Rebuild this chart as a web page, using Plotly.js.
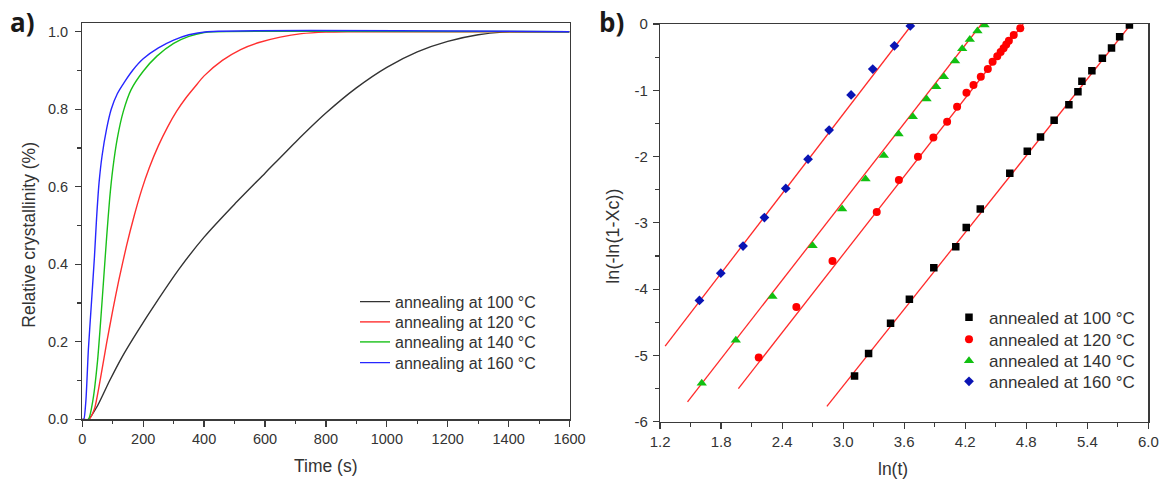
<!DOCTYPE html>
<html>
<head>
<meta charset="utf-8">
<script src="https://cdn.plot.ly/plotly-3.0.1.min.js"></script>
<style>
  html, body { margin: 0; padding: 0; background: #fff; }
  #chart { width: 1159px; height: 479px; }
</style>
</head>
<body>
<div id="chart"></div>
<script>
// ---------- Panel a) : relative crystallinity vs time (values read from the picture) ----------
const time100 = [0, 20, 50, 90, 130, 180, 250, 320, 400, 500, 600, 700, 800, 900, 1000, 1100, 1200, 1300, 1380, 1430, 1600];
const xc100   = [0, 0, 0.035, 0.10, 0.16, 0.225, 0.31, 0.39, 0.47, 0.555, 0.635, 0.715, 0.79, 0.855, 0.908, 0.948, 0.975, 0.992, 0.999, 1.0, 1.0];

const time120 = [0, 22, 40, 60, 80, 100, 120, 145, 170, 195, 220, 250, 280, 310, 340, 370, 400, 460, 520, 580, 650, 720, 800, 870, 1600];
const xc120   = [0, 0, 0.027, 0.107, 0.197, 0.281, 0.359, 0.447, 0.524, 0.592, 0.649, 0.706, 0.754, 0.795, 0.829, 0.858, 0.886, 0.926, 0.954, 0.972, 0.986, 0.995, 0.999, 1.0, 1.0];

const time140 = [0, 20, 35, 50, 60, 70, 80, 90, 100, 115, 135, 160, 200, 245, 300, 350, 400, 430, 1600];
const xc140   = [0, 0, 0.05, 0.15, 0.25, 0.36, 0.47, 0.57, 0.645, 0.725, 0.795, 0.85, 0.898, 0.937, 0.97, 0.988, 0.998, 1.0, 1.0];

const time160 = [0, 5, 12, 20, 30, 40, 47, 55, 65, 80, 95, 115, 140, 165, 200, 250, 300, 350, 410, 1600];
const xc160   = [0, 0, 0.05, 0.18, 0.30, 0.42, 0.52, 0.61, 0.68, 0.75, 0.80, 0.84, 0.872, 0.90, 0.93, 0.958, 0.978, 0.992, 1.0, 1.0];

const curveNames = ['annealing at 100 °C', 'annealing at 120 °C', 'annealing at 140 °C', 'annealing at 160 °C'];

// ---------- Panel b) : Avrami plot ln(-ln(1-Xc)) vs ln(t) ----------
const lnt100 = [3.112, 3.25, 3.466, 3.651, 3.891, 4.107, 4.21, 4.348, 4.638, 4.81, 4.94, 5.074, 5.219, 5.308, 5.347, 5.445, 5.548, 5.638, 5.718, 5.814];
const lnx100 = [-5.31, -4.97, -4.516, -4.154, -3.677, -3.36, -3.07, -2.79, -2.253, -1.92, -1.705, -1.453, -1.217, -1.021, -0.865, -0.707, -0.518, -0.362, -0.191, -0.015];

const lnt120 = [2.17, 2.54, 2.895, 3.33, 3.548, 3.735, 3.887, 4.022, 4.12, 4.212, 4.281, 4.353, 4.422, 4.469, 4.515, 4.548, 4.577, 4.603, 4.629, 4.677, 4.741];
const lnx120 = [-5.03, -4.27, -3.575, -2.837, -2.354, -2.004, -1.713, -1.474, -1.248, -1.038, -0.92, -0.795, -0.679, -0.569, -0.488, -0.423, -0.367, -0.311, -0.254, -0.166, -0.065];

const lnt140 = [1.61, 1.945, 2.305, 2.70, 2.99, 3.22, 3.40, 3.545, 3.685, 3.82, 3.915, 3.99, 4.10, 4.17, 4.245, 4.32, 4.39];
const lnx140 = [-5.42, -4.77, -4.11, -3.345, -2.79, -2.34, -1.985, -1.66, -1.40, -1.13, -0.945, -0.795, -0.558, -0.375, -0.235, -0.105, -0.015];

const lnt160 = [1.587, 1.797, 2.016, 2.226, 2.436, 2.655, 2.862, 3.078, 3.291, 3.504, 3.66];
const lnx160 = [-4.17, -3.76, -3.35, -2.92, -2.48, -2.04, -1.60, -1.07, -0.68, -0.33, -0.03];

// linear fit lines (end points)
const fitT100 = [2.84, 5.83];  const fitY100 = [-5.77, 0];
const fitT120 = [1.97, 4.77];  const fitY120 = [-5.50, 0];
const fitT140 = [1.47, 4.36];  const fitY140 = [-5.70, 0];
const fitT160 = [1.25, 3.68];  const fitY160 = [-4.86, 0];

const pointNames = ['annealed at 100 °C', 'annealed at 120 °C', 'annealed at 140 °C', 'annealed at 160 °C'];

// tick labels
const xTicksA = [0, 200, 400, 600, 800, 1000, 1200, 1400, 1600];
const yTicksA = [0, 0.2, 0.4, 0.6, 0.8, 1.0];
const yTickTextA = ['0.0', '0.2', '0.4', '0.6', '0.8', '1.0'];
const xTicksB = [1.2, 1.8, 2.4, 3.0, 3.6, 4.2, 4.8, 5.4, 6.0];
const xTickTextB = ['1.2', '1.8', '2.4', '3.0', '3.6', '4.2', '4.8', '5.4', '6.0'];
const yTicksB = [-6, -5, -4, -3, -2, -1, 0];
const yTickTextB = ['-6', '-5', '-4', '-3', '-2', '-1', '0'];

// ---------- build traces ----------
const curveColors = ['#333333', '#ff3030', '#19c019', '#2626ff'];
const curveT = [time100, time120, time140, time160];
const curveY = [xc100, xc120, xc140, xc160];
const FONT = 'Liberation Sans, Arial, sans-serif';

// legend slots (one per entry so the entry spacing matches the original)
const legA_y = [0.3701, 0.3278, 0.2860, 0.2428];
const legB_y = [0.3365, 0.2910, 0.2460, 0.2030];

const traces = [];
const legends = {};
for (let i = 0; i < 4; i++) {
  const key = i === 0 ? 'legend' : 'legend' + (i + 1);
  traces.push({
    x: curveT[i], y: curveY[i], type: 'scatter', mode: 'lines',
    name: curveNames[i], xaxis: 'x', yaxis: 'y', legend: key,
    line: { color: curveColors[i], width: 1.4, shape: 'spline', smoothing: 0.6 },
    hoverinfo: 'skip'
  });
  legends[key] = {
    x: 0.3063, y: legA_y[i], xanchor: 'left', yanchor: 'middle',
    bgcolor: 'rgba(0,0,0,0)', borderwidth: 0,
    font: { family: FONT, size: 16, color: '#333' }
  };
}

const fitT = [fitT100, fitT120, fitT140, fitT160];
const fitY = [fitY100, fitY120, fitY140, fitY160];
for (let i = 0; i < 4; i++) {
  traces.push({
    x: fitT[i], y: fitY[i], type: 'scatter', mode: 'lines',
    xaxis: 'x2', yaxis: 'y2', showlegend: false,
    line: { color: '#ff2a2a', width: 1.3 }, hoverinfo: 'skip'
  });
}

const ptT = [lnt100, lnt120, lnt140, lnt160];
const ptY = [lnx100, lnx120, lnx140, lnx160];
const ptColor = ['#000000', '#ff0000', '#11c011', '#0a14b4'];
const ptSymbol = ['square', 'circle', 'triangle-up', 'diamond'];
const ptSize = [7.5, 8, 9, 7.5];
for (let i = 0; i < 4; i++) {
  const key = 'legend' + (i + 5);
  traces.push({
    x: ptT[i], y: ptY[i], type: 'scatter', mode: 'markers',
    name: pointNames[i], xaxis: 'x2', yaxis: 'y2', legend: key,
    marker: { color: ptColor[i], symbol: ptSymbol[i], size: ptSize[i], line: { width: 0 } },
    hoverinfo: 'skip'
  });
  legends[key] = {
    x: 0.8188, y: legB_y[i], xanchor: 'left', yanchor: 'middle',
    bgcolor: 'rgba(0,0,0,0)', borderwidth: 0,
    font: { family: FONT, size: 17, color: '#333' }
  };
}

const axisCommon = {
  showline: true, mirror: true, linecolor: '#3a3a3a', linewidth: 1.3,
  ticks: 'outside', ticklen: 6, tickwidth: 1.2, tickcolor: '#3a3a3a',
  showgrid: false, zeroline: false, fixedrange: true,
  tickfont: { family: FONT, size: 14.5, color: '#333' }
};

const layout = Object.assign({
  width: 1159, height: 479,
  margin: { l: 0, r: 0, t: 0, b: 0 },
  paper_bgcolor: '#fff', plot_bgcolor: '#fff',
  font: { family: FONT, color: '#333' },
  xaxis: Object.assign({}, axisCommon, {
    domain: [0.0710, 0.4914], range: [0, 1600], anchor: 'y',
    tickmode: 'array', tickvals: xTicksA,
    minor: { dtick: 100, tick0: 0, ticks: 'outside', ticklen: 3.5, tickwidth: 1.1, tickcolor: '#3a3a3a' }
  }),
  yaxis: Object.assign({}, axisCommon, {
    domain: [0.1246, 0.9514], range: [0, 1.0217], anchor: 'x',
    tickmode: 'array', tickvals: yTicksA, ticktext: yTickTextA, ticklabelstandoff: 4,
    minor: { dtick: 0.1, tick0: 0, ticks: 'outside', ticklen: 3.5, tickwidth: 1.1, tickcolor: '#3a3a3a' }
  }),
  xaxis2: Object.assign({}, axisCommon, {
    domain: [0.5695, 0.9908], range: [1.2, 6.0], anchor: 'y2',
    tickmode: 'array', tickvals: xTicksB, ticktext: xTickTextB,
    tickfont: { family: FONT, size: 15, color: '#333' },
    minor: { dtick: 0.3, tick0: 1.2, ticks: 'outside', ticklen: 3.5, tickwidth: 1.1, tickcolor: '#3a3a3a' }
  }),
  yaxis2: Object.assign({}, axisCommon, {
    domain: [0.1196, 0.9499], range: [-6, 0], anchor: 'x2',
    tickmode: 'array', tickvals: yTicksB, ticktext: yTickTextB, ticklabelstandoff: 2,
    tickfont: { family: FONT, size: 15, color: '#333' },
    minor: { dtick: 0.5, tick0: 0, ticks: 'outside', ticklen: 3.5, tickwidth: 1.1, tickcolor: '#3a3a3a' }
  }),
  annotations: [
    { text: 'Relative crystallinity (%)', xref: 'paper', yref: 'paper', x: 0.0255, y: 0.509,
      textangle: -90, showarrow: false, xanchor: 'center', yanchor: 'middle',
      font: { family: FONT, size: 17.5, color: '#333' } },
    { text: 'Time (s)', xref: 'paper', yref: 'paper', x: 326 / 1159, y: 0.027,
      showarrow: false, xanchor: 'center', yanchor: 'middle',
      font: { family: FONT, size: 17.5, color: '#333' } },
    { text: 'ln(-ln(1-Xc))', xref: 'paper', yref: 'paper', x: 613 / 1159, y: 0.506,
      textangle: -90, showarrow: false, xanchor: 'center', yanchor: 'middle',
      font: { family: FONT, size: 18, color: '#333' } },
    { text: 'ln(t)', xref: 'paper', yref: 'paper', x: 893 / 1159, y: 0.021,
      showarrow: false, xanchor: 'center', yanchor: 'middle',
      font: { family: FONT, size: 17.5, color: '#333' } },
    { text: '<b>a)</b>', xref: 'paper', yref: 'paper', x: 22 / 1159, y: 1 - 22 / 479,
      showarrow: false, xanchor: 'center', yanchor: 'middle',
      font: { family: 'Open Sans, sans-serif', size: 26, color: '#1a1a1a' } },
    { text: '<b>b)</b>', xref: 'paper', yref: 'paper', x: 611 / 1159, y: 1 - 22 / 479,
      showarrow: false, xanchor: 'center', yanchor: 'middle',
      font: { family: 'Open Sans, sans-serif', size: 26, color: '#1a1a1a' } }
  ]
}, legends);

Plotly.newPlot('chart', traces, layout, { displayModeBar: false, staticPlot: true });
</script>
</body>
</html>
